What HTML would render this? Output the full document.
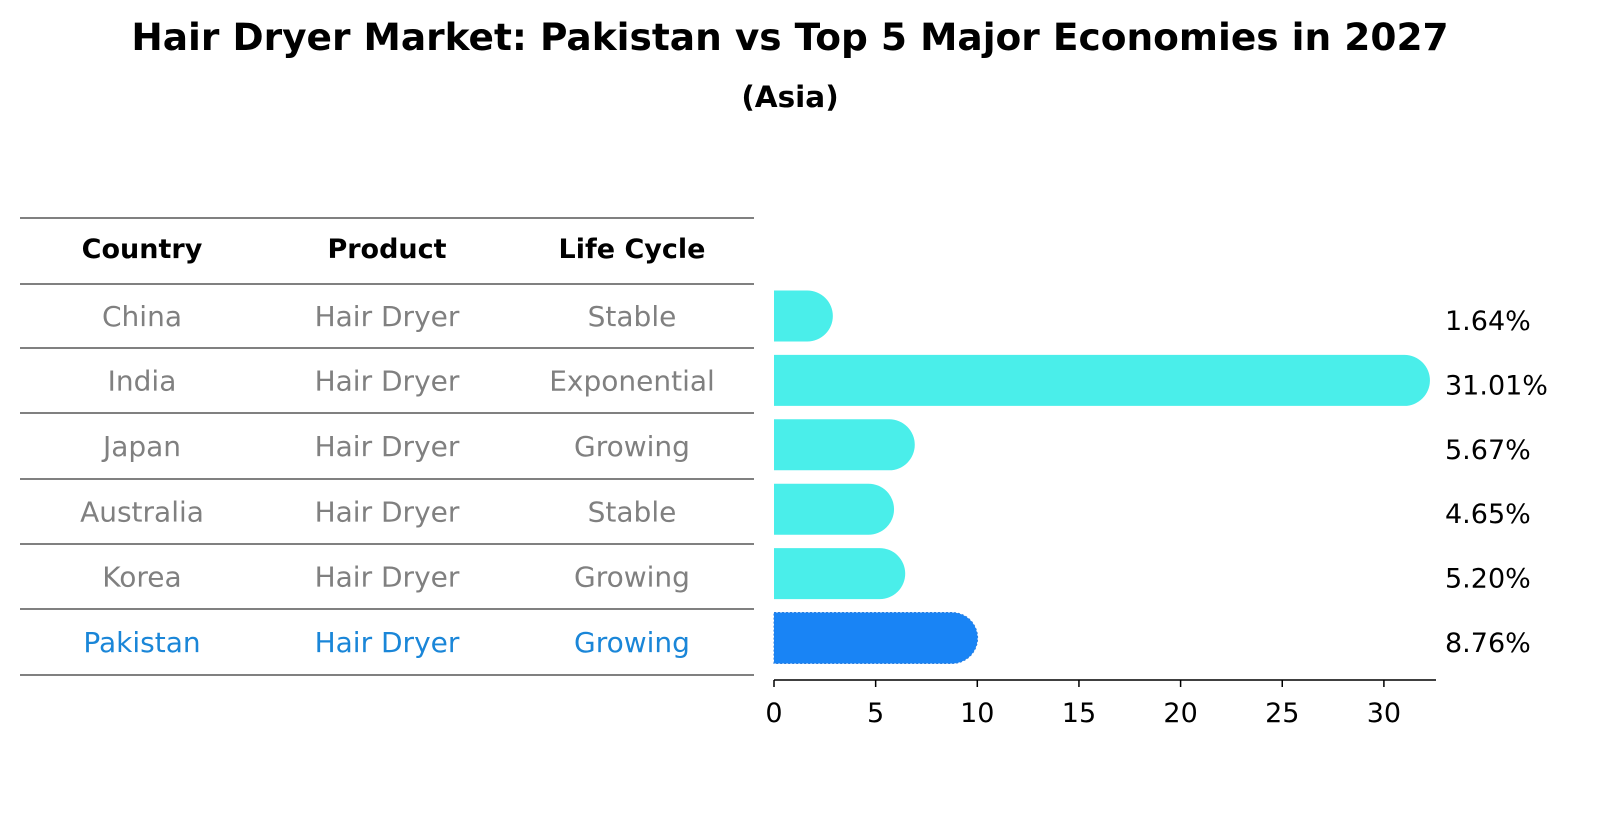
<!DOCTYPE html>
<html><head><meta charset="utf-8"><style>
body{margin:0;background:#fff;font-family:"DejaVu Sans","Liberation Sans",sans-serif;}
</style></head><body>
<svg width="1604" height="823" viewBox="0 0 1604 823" xmlns="http://www.w3.org/2000/svg">
<text x="790" y="50" text-anchor="middle" font-size="37.5" font-weight="bold">Hair Dryer Market: Pakistan vs Top 5 Major Economies in 2027</text>
<text x="790" y="107" text-anchor="middle" font-size="29.5" font-weight="bold">(Asia)</text>
<g id="table"></g>
<g id="bars"></g>
<g id="axis"></g>
</svg>
<script>
const countries=["China","India","Japan","Australia","Korea","Pakistan"];
const products=["Hair Dryer","Hair Dryer","Hair Dryer","Hair Dryer","Hair Dryer","Hair Dryer"];
const lifecycles=["Stable","Exponential","Growing","Stable","Growing","Growing"];
const values=[1.64,31.01,5.67,4.65,5.20,8.76];
const ticks=[0,5,10,15,20,25,30];
const NS="http://www.w3.org/2000/svg";
function mk(t,a,p){const e=document.createElementNS(NS,t);for(const k in a)e.setAttribute(k,a[k]);p.appendChild(e);return e;}
const x=v=>774+v*20.33;
const rowY=i=>316+i*64.4;
const tbl=document.getElementById('table');
const lines=[218,284,348,413,479,544,609,675];
lines.forEach((y,i)=>{const l=mk('line',{x1:20,x2:754,y1:y,y2:y,stroke:'#000','stroke-width':1},tbl);

});
const cols=[142,387,632];
["Country","Product","Life Cycle"].forEach((h,j)=>{const t=mk('text',{x:cols[j],y:258,'text-anchor':'middle','font-size':27,'font-weight':'bold'},tbl);t.textContent=h;

});
countries.forEach((c,i)=>{const col=c==="Pakistan"?"#1a86d8":"#808080";
[c,products[i],lifecycles[i]].forEach((s,j)=>{const t=mk('text',{x:cols[j],y:(lines[i+1]+lines[i+2])/2+10,'text-anchor':'middle','font-size':28,fill:col},tbl);t.textContent=s;

});});
const bars=document.getElementById('bars');
const r=25.5;
values.forEach((v,i)=>{const cy=rowY(i),x0=x(0),x1=x(v);
const pak=countries[i]==="Pakistan";
const d=`M${x0},${cy-r} L${x1},${cy-r} A${r},${r} 0 0 1 ${x1},${cy+r} L${x0},${cy+r} Z`;
const p=mk('path',{d:d,fill:pak?'#1984f5':'#4aeeea',stroke:pak?'#2a7ee0':'none','stroke-dasharray':pak?'2,2':'', 'stroke-width':1},bars);


const t=mk('text',{x:1445,y:cy+14,'font-size':27},bars);t.textContent=v.toFixed(2)+'%';

});
const ax=document.getElementById('axis');
mk('line',{x1:774,x2:1436,y1:680,y2:680,stroke:'#000','stroke-width':1.5},ax);
ticks.forEach(t=>{mk('line',{x1:x(t),x2:x(t),y1:680,y2:687,stroke:'#000','stroke-width':1.5},ax);
const l=mk('text',{x:x(t),y:722,'text-anchor':'middle','font-size':27},ax);l.textContent=t;

});
</script>
</body></html>
